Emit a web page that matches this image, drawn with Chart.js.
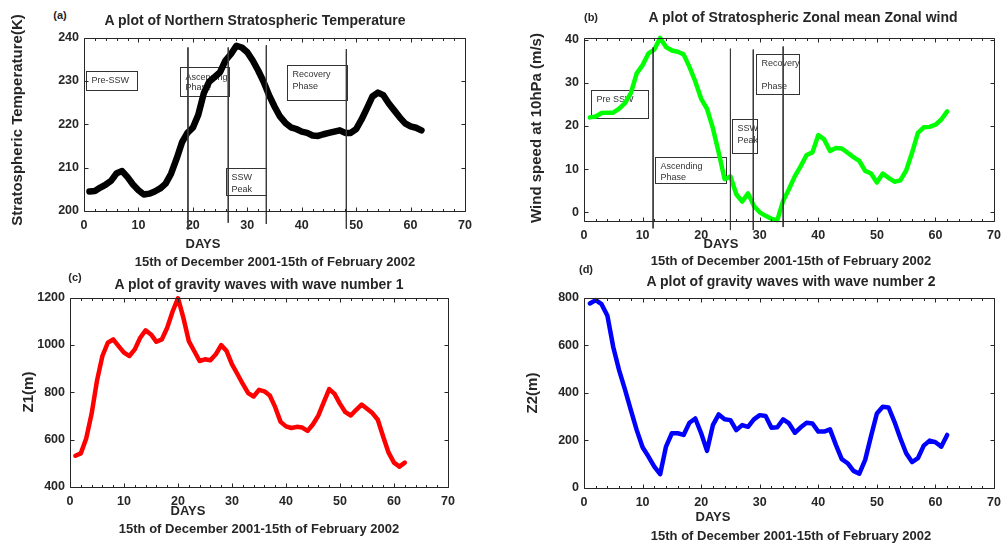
<!DOCTYPE html>
<html>
<head>
<meta charset="utf-8">
<script src="https://cdn.jsdelivr.net/npm/chart.js@4.4.1/dist/chart.umd.min.js"></script>
<style>
body { margin: 0; background: #fff; width: 1008px; height: 544px; position: relative; overflow: hidden;
       font-family: "Liberation Sans", Arial, sans-serif; }
canvas { position: absolute; }
.t { position: absolute; transform: translate(-50%, -50%); white-space: nowrap; font-weight: bold; color: #262626; }
.r { transform: translate(-50%, -50%) rotate(-90deg); }
</style>
</head>
<body>
<canvas id="ca"></canvas>
<canvas id="cb"></canvas>
<canvas id="cc"></canvas>
<canvas id="cd"></canvas>

<div class="t" style="left:60px;top:15px;font-size:11px">(a)</div>
<div class="t" style="left:255px;top:20px;font-size:14px">A plot of Northern Stratospheric Temperature</div>
<div class="t r" style="left:16px;top:120px;font-size:15px">Stratospheric Temperature(K)</div>
<div class="t" style="left:203px;top:243px;font-size:13px">DAYS</div>
<div class="t" style="left:275px;top:261px;font-size:13px">15th of December 2001-15th of February 2002</div>

<div class="t" style="left:591px;top:17px;font-size:11px">(b)</div>
<div class="t" style="left:803px;top:17px;font-size:14px">A plot of Stratospheric Zonal mean Zonal wind</div>
<div class="t r" style="left:535px;top:128px;font-size:15px">Wind speed at 10hPa (m/s)</div>
<div class="t" style="left:721px;top:243px;font-size:13px">DAYS</div>
<div class="t" style="left:791px;top:260px;font-size:13px">15th of December 2001-15th of February 2002</div>

<div class="t" style="left:75px;top:277px;font-size:11px">(c)</div>
<div class="t" style="left:259px;top:284px;font-size:14px">A plot of gravity waves with wave number 1</div>
<div class="t r" style="left:27px;top:392px;font-size:15px">Z1(m)</div>
<div class="t" style="left:188px;top:510px;font-size:13px">DAYS</div>
<div class="t" style="left:259px;top:528px;font-size:13px">15th of December 2001-15th of February 2002</div>

<div class="t" style="left:586px;top:269px;font-size:11px">(d)</div>
<div class="t" style="left:791px;top:281px;font-size:14px">A plot of gravity waves with wave number 2</div>
<div class="t r" style="left:531px;top:393px;font-size:15px">Z2(m)</div>
<div class="t" style="left:713px;top:516px;font-size:13px">DAYS</div>
<div class="t" style="left:791px;top:535px;font-size:13px">15th of December 2001-15th of February 2002</div>

<script>
// days since 15 Dec 2001
var days = [1,2,3,4,5,6,7,8,9,10,11,12,13,14,15,16,17,18,19,20,21,22,23,24,25,26,27,28,29,30,
            31,32,33,34,35,36,37,38,39,40,41,42,43,44,45,46,47,48,49,50,51,52,53,54,55,56,57,58,59,60,61,62];

var tempK = [204.5,204.6,205.4,206.1,207.0,208.7,209.2,207.8,206.1,204.8,
             203.8,204.0,204.5,205.2,206.3,208.6,212.0,215.8,218.0,219.2,
             222.2,227.1,229.8,230.9,232.0,234.7,236.2,238.1,237.7,236.6,
             234.7,232.4,229.8,226.7,224.1,221.8,220.3,219.3,218.9,218.3,
             218.0,217.4,217.3,217.7,218.0,218.3,218.6,218.0,218.0,218.9,
             221.1,223.7,226.4,227.3,226.7,224.8,223.2,221.6,220.2,219.5,
             219.2,218.6];

var windU = [22.0,22.2,23.0,23.1,23.1,24.0,25.3,27.6,32.2,34.1,
             36.8,37.7,40.4,38.3,37.5,37.2,36.6,33.7,30.3,26.3,
             24.0,19.5,13.8,7.7,8.3,4.2,2.5,4.4,1.5,0.0,
             -0.8,-1.5,-1.8,2.7,5.4,8.4,10.7,13.3,13.9,17.9,
             16.9,14.2,14.9,14.8,13.8,12.8,11.9,9.6,9.0,6.9,
             9.0,8.0,7.1,7.4,9.7,13.8,18.4,19.7,19.8,20.3,
             21.5,23.4];

var z1 = [532,542,605,709,849,953,1009,1023,995,967,
          953,981,1030,1061,1044,1013,1023,1072,1141,1197,
          1114,1016,974,932,939,935,960,999,974,918,
          877,835,796,782,810,804,786,737,675,656,
          649,654,651,637,665,702,758,813,793,751,
          716,702,726,748,730,712,684,612,545,503,
          486,503];

var z2 = [775,789,772,723,591,494,413,327,243,171,
          132,90,58,174,230,230,223,274,292,230,
          156,264,309,289,285,243,264,257,288,306,
          302,253,255,288,271,232,255,274,271,237,
          237,246,181,121,104,72,60,118,218,313,
          341,338,278,209,146,109,125,178,199,192,
          174,223];

var xTicks = [0, 70, 10];          // min, max, step for every panel
var tempTicks = [200, 240, 10];
var windTicks = [-2, 40.5, 10];
var z1Ticks = [400, 1200, 200];
var z2Ticks = [0, 800, 200];

// phase markers (day, top value, bottom value)
var tempPhaseLines = [[19.1, 237.7, 195.7], [26.5, 237.7, 197.3], [33.5, 238.2, 197.0], [48.2, 237.3, 195.9]];
var windPhaseLines = [[11.8, 38.2, -3.7], [25.0, 37.9, -4.1], [28.9, 37.7, -4.1], [34.0, 38.4, -3.4]];

// phase boxes: day range, value range, text
var tempBoxes = [
  {x0: 0.4, x1: 9.7, y0: 228.0, y1: 232.3, text: ['Pre-SSW'], dy: [9.5]},
  {x0: 17.6, x1: 26.7, y0: 226.6, y1: 233.2, text: ['Ascending', 'Phase'], dy: [10, 20]},
  {x0: 26.1, x1: 33.5, y0: 203.6, y1: 210.0, text: ['SSW', 'Peak'], dy: [9, 21]},
  {x0: 37.3, x1: 48.3, y0: 225.7, y1: 233.6, text: ['Recovery', 'Phase'], dy: [9, 21]}
];
var windBoxes = [
  {x0: 1.2, x1: 11.0, y0: 21.8, y1: 28.3, text: ['Pre SSW'], dy: [9]},
  {x0: 12.2, x1: 24.2, y0: 6.7, y1: 12.9, text: ['Ascending', 'Phase'], dy: [9, 20]},
  {x0: 25.2, x1: 29.6, y0: 13.8, y1: 21.6, text: ['SSW', 'Peak'], dy: [9, 21]},
  {x0: 29.4, x1: 36.7, y0: 27.4, y1: 36.6, text: ['Recovery', 'Phase'], dy: [9, 32]}
];

var ink = '#262626';
var tickFont = {family: '"Liberation Sans", Arial, sans-serif', size: 12.5, weight: 'bold'};

var framePlugin = {
  id: 'frame',
  beforeDatasetsDraw: function (chart, args, opts) {
    var ctx = chart.ctx, xs = chart.scales.x, ys = chart.scales.y;
    ctx.save();
    ctx.font = '9px "Liberation Sans", Arial, sans-serif';
    ctx.textBaseline = 'middle';
    (opts.boxes || []).forEach(function (b) {
      var l = Math.round(xs.getPixelForValue(b.x0)) + 0.5, r = Math.round(xs.getPixelForValue(b.x1)) + 0.5;
      var t = Math.round(ys.getPixelForValue(b.y1)) + 0.5, bt = Math.round(ys.getPixelForValue(b.y0)) + 0.5;
      ctx.fillStyle = '#fff';
      ctx.fillRect(l, t, r - l, bt - t);
      ctx.strokeStyle = '#333';
      ctx.lineWidth = 1;
      ctx.strokeRect(l, t, r - l, bt - t);
      ctx.fillStyle = '#333';
      b.text.forEach(function (s, i) { ctx.fillText(s, l + 5, t + b.dy[i]); });
    });
    ctx.restore();
  },
  afterDatasetsDraw: function (chart) {
    var ctx = chart.ctx, a = chart.chartArea, xs = chart.scales.x, ys = chart.scales.y;
    ctx.save();
    ctx.strokeStyle = ink;
    ctx.lineWidth = 1;
    ctx.beginPath();
    var L = Math.round(a.left) + 0.5, R = Math.round(a.right) + 0.5, T = Math.round(a.top) + 0.5, B = Math.round(a.bottom) + 0.5;
    ctx.rect(L, T, R - L, B - T);
    for (var v = xs.min; v <= xs.max; v += 2) {
      var px = Math.round(xs.getPixelForValue(v)) + 0.5;
      var len = v % 10 === 0 ? 4 : 2.5;
      ctx.moveTo(px, B); ctx.lineTo(px, B - len);
      ctx.moveTo(px, T); ctx.lineTo(px, T + len);
    }
    ys.ticks.forEach(function (tk) {
      var py = Math.round(ys.getPixelForValue(tk.value)) + 0.5;
      ctx.moveTo(L, py); ctx.lineTo(L + 4, py);
      ctx.moveTo(R, py); ctx.lineTo(R - 4, py);
    });
    ctx.stroke();
    ctx.restore();
  }
};

function toPoints(xv, yv) {
  return xv.map(function (d, i) { return {x: d, y: yv[i]}; });
}

function plain(v) { return String(v); }

function makePanel(id, box, area, series, color, width, yTicks, lines, boxes) {
  var cv = document.getElementById(id);
  cv.width = box.w; cv.height = box.h;
  cv.style.left = box.x + 'px'; cv.style.top = box.y + 'px';
  var YW = 40, XH = 24;
  var sets = [{
    data: toPoints(days, series), borderColor: color, borderWidth: width,
    pointRadius: 0, tension: 0, borderJoinStyle: 'round', borderCapStyle: 'round', clip: false, order: 1
  }];
  (lines || []).forEach(function (ln) {
    sets.push({
      data: [{x: ln[0], y: ln[1]}, {x: ln[0], y: ln[2]}], borderColor: '#3a3a3a', borderWidth: 1,
      pointRadius: 0, clip: false, order: 0
    });
  });
  new Chart(cv, {
    type: 'line',
    data: {datasets: sets},
    options: {
      responsive: false, animation: false, events: [],
      layout: {padding: {left: area.l - box.x - YW, top: area.t - box.y,
                         right: box.x + box.w - area.r, bottom: box.y + box.h - area.b - XH}},
      scales: {
        x: {type: 'linear', min: xTicks[0], max: xTicks[1],
            afterFit: function (s) { s.height = XH; },
            grid: {display: false, drawTicks: false}, border: {display: false},
            ticks: {stepSize: xTicks[2], padding: 7, color: ink, font: tickFont, maxRotation: 0,
                    autoSkip: false, callback: plain}},
        y: {type: 'linear', min: yTicks[0], max: yTicks[1],
            afterFit: function (s) { s.width = YW; },
            grid: {display: false, drawTicks: false}, border: {display: false},
            ticks: {stepSize: yTicks[2], padding: 5, color: ink, font: tickFont, includeBounds: false,
                    autoSkip: false, callback: plain}}
      },
      plugins: {legend: {display: false}, tooltip: {enabled: false}, frame: {boxes: boxes || []}}
    },
    plugins: [framePlugin]
  });
}

makePanel('ca', {x: 0, y: 25, w: 500, h: 215}, {l: 84, t: 35, r: 465, b: 211},
          tempK, '#000000', 6.5, tempTicks, tempPhaseLines, tempBoxes);
makePanel('cb', {x: 500, y: 25, w: 508, h: 225}, {l: 584, t: 36, r: 998, b: 221},
          windU, '#00ff00', 4.5, windTicks, windPhaseLines, windBoxes);
makePanel('cc', {x: 0, y: 285, w: 500, h: 225}, {l: 70, t: 296, r: 448, b: 487},
          z1, '#ff0000', 4.5, z1Ticks);
makePanel('cd', {x: 500, y: 285, w: 508, h: 225}, {l: 584, t: 297, r: 998, b: 488},
          z2, '#0000ff', 4.5, z2Ticks);
</script>
</body>
</html>
